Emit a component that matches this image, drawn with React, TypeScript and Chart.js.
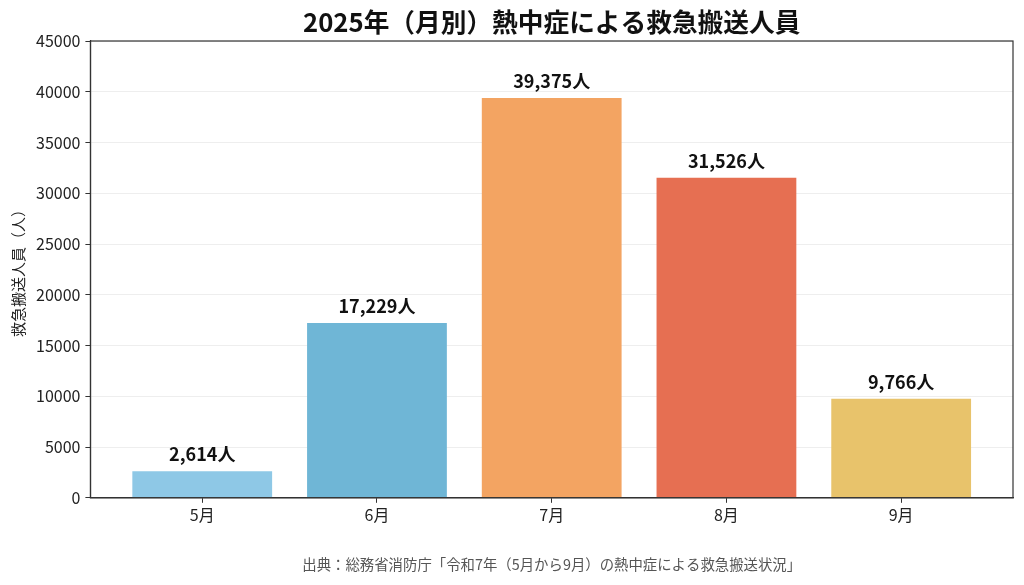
import { useRef, useEffect } from 'react';
import { Chart } from 'chart.js/auto';

const FONT = '"Noto Sans CJK JP", "Noto Sans", sans-serif';

const months = ['5月', '6月', '7月', '8月', '9月'];
const patients = [2614, 17229, 39375, 31526, 9766];
const barColors = ['#8ec8e6', '#6fb6d6', '#f3a462', '#e66f52', '#e8c36b'];

const chartTitle = '2025年（月別）熱中症による救急搬送人員';
const yTitle = '救急搬送人員（人）';
const sourceNote = '出典：総務省消防庁「令和7年（5月から9月）の熱中症による救急搬送状況」';

// numbers above each bar
const valueLabels = {
    id: 'valueLabels',
    afterDatasetsDraw(chart: any) {
        const { ctx } = chart;
        const meta = chart.getDatasetMeta(0);
        ctx.save();
        ctx.font = `bold 18px ${FONT}`;
        ctx.fillStyle = '#111';
        ctx.textAlign = 'center';
        ctx.textBaseline = 'bottom';
        meta.data.forEach((bar: any, i: number) => {
            ctx.fillText(patients[i].toLocaleString('en-US') + '人', bar.x, bar.y - 8);
        });
        ctx.restore();
    }
};

// box around the plot, title and source note centred over the plot area
const frame = {
    id: 'frame',
    afterDraw(chart: any) {
        const { ctx, chartArea: a } = chart;
        const cx = (a.left + a.right) / 2;
        ctx.save();
        ctx.strokeStyle = '#333';
        ctx.lineWidth = 1.2;
        ctx.strokeRect(a.left, a.top, a.right - a.left, a.bottom - a.top);

        ctx.textAlign = 'center';
        ctx.textBaseline = 'middle';
        ctx.fillStyle = '#111';
        ctx.font = `bold 25.7px ${FONT}`;
        ctx.fillText(chartTitle, cx, 22);

        ctx.fillStyle = '#555';
        ctx.font = `14.4px ${FONT}`;
        ctx.fillText(sourceNote, cx, 565);
        ctx.restore();
    }
};

const App = () => {
    const canvasRef = useRef(null);
    const chartRef = useRef<any>(null);

    useEffect(() => {
        if (!canvasRef.current) return;
        if (chartRef.current) chartRef.current.destroy();

        chartRef.current = new Chart(canvasRef.current, {
            type: 'bar',
            data: {
                datasets: [{
                    label: yTitle,
                    data: patients.map((v, i) => ({ x: i, y: v })),
                    backgroundColor: barColors,
                    barPercentage: 0.8,
                    categoryPercentage: 1
                }]
            },
            options: {
                animation: false,
                responsive: true,
                maintainAspectRatio: false,
                layout: { padding: { left: 5, right: 11, top: 41, bottom: 57 } },
                plugins: {
                    legend: { display: false },
                    tooltip: { enabled: false },
                    title: { display: false }
                },
                scales: {
                    x: {
                        type: 'linear',
                        offset: false,
                        min: -0.64,
                        max: 4.64,
                        afterBuildTicks: (axis: any) => {
                            axis.ticks = months.map((_, i) => ({ value: i }));
                        },
                        ticks: {
                            color: '#222',
                            font: { family: FONT, size: 16 },
                            callback: (v: any) => months[v] ?? '',
                            padding: 3
                        },
                        grid: { offset: false, drawOnChartArea: false, tickLength: 5, tickColor: '#333' },
                        border: { color: '#333', width: 1.2 }
                    },
                    y: {
                        min: 0,
                        max: 45000,
                        ticks: {
                            stepSize: 5000,
                            color: '#222',
                            font: { family: FONT, size: 16 },
                            callback: (v: any) => String(v),
                            padding: 5
                        },
                        title: {
                            display: true,
                            text: yTitle,
                            color: '#222',
                            font: { family: FONT, size: 15 },
                            padding: { bottom: 4 }
                        },
                        grid: { color: '#eeeeee', tickLength: 5, tickColor: '#333' },
                        border: { color: '#333', width: 1.2 }
                    }
                }
            },
            plugins: [valueLabels, frame]
        } as any);

        return () => { if (chartRef.current) chartRef.current.destroy(); };
    }, []);

    return (
        <div style={{ position: 'fixed', left: 0, top: 0, width: 1024, height: 585, background: '#fff' }}>
            <canvas ref={canvasRef}></canvas>
        </div>
    );
};

export default App;
